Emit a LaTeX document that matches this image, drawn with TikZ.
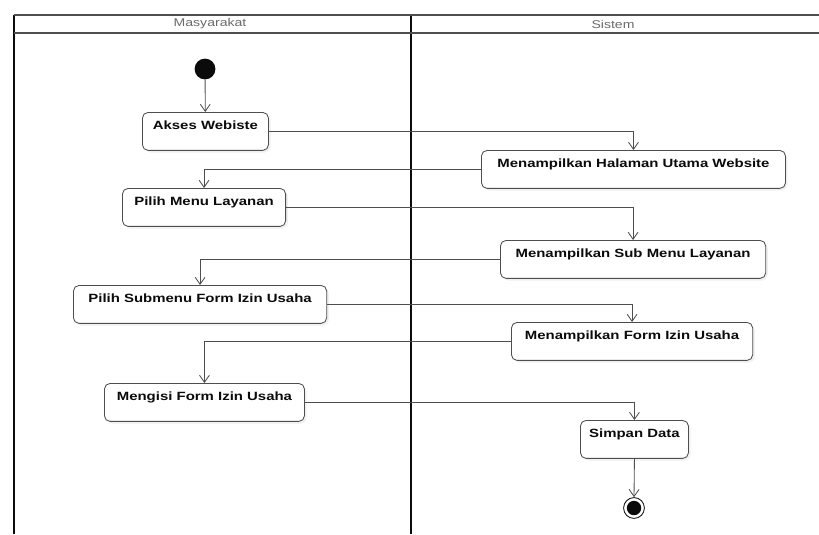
\documentclass[tikz,border=0pt]{standalone}
\usepackage{fontspec}
\setmainfont{Liberation Sans}[FakeStretch=1.25]
\usetikzlibrary{arrows.meta,shadows}
\definecolor{ink}{HTML}{0B0B0B}
\definecolor{inksoft}{HTML}{4E4E4E}
\definecolor{muted}{HTML}{6A6A6A}
\definecolor{actionfill}{HTML}{FFFFFF}

\begin{document}
\begin{tikzpicture}[
  x=0.025cm, y=-0.025cm,
  >={Straight Barb[length=5pt, width=7pt]},
  action/.style={draw=inksoft, fill=actionfill, line width=0.6pt, rounded corners=4pt,
    anchor=north west, inner xsep=4pt, inner ysep=3pt, text height=9pt, text depth=12pt,
    font=\fontsize{8.5pt}{10pt}\selectfont\bfseries, text=ink,
    drop shadow={opacity=0.12, shadow xshift=1.5pt, shadow yshift=-1.5pt}},
  lanetitle/.style={font=\fontsize{8pt}{10pt}\selectfont, text=muted},
  lane/.style={draw=ink, line width=1.3pt},
  header/.style={draw=inksoft, line width=1.2pt},
  flow/.style={->, draw=inksoft, line width=0.6pt}
]
\useasboundingbox (0,0) rectangle (819,534);

% Swimlanes
\draw[lane] (14,15) -- (14,534);
\draw[lane] (411,15) -- (411,534);
\draw[header] (14,15) -- (819,15);
\draw[header] (14,33) -- (819,33);
\node[lanetitle] (masyarakat) at (210,24) {Masyarakat};
\node[lanetitle] (sistem) at (613,24) {Sistem};

% Start state
\node[circle, fill=ink, minimum size=0.52cm, inner sep=0pt] (start) at (205,69) {};

% Actions of Masyarakat
\node[action, minimum width=3.15cm] (akses) at (142,112) {Akses Webiste};
\node[action, minimum width=4.08cm] (menu) at (122,188) {Pilih Menu Layanan};
\node[action, minimum width=6.33cm] (pilihform) at (73,285) {Pilih Submenu Form Izin Usaha};
\node[action, minimum width=5.0cm] (mengisi) at (104,383) {Mengisi Form Izin Usaha};

% Actions of Sistem
\node[action, minimum width=7.6cm] (halaman) at (481,150) {Menampilkan Halaman Utama Website};
\node[action, minimum width=6.63cm] (submenu) at (500,240) {Menampilkan Sub Menu Layanan};
\node[action, minimum width=6.03cm] (tampilform) at (511,322) {Menampilkan Form Izin Usaha};
\node[action, minimum width=2.7cm] (simpan) at (580,420) {Simpan Data};

% Final state
\node[circle, draw=ink, line width=0.6pt, minimum size=0.52cm, inner sep=0pt] (end) at (634,508) {};
\node[circle, fill=ink, minimum size=0.36cm, inner sep=0pt] (endcore) at (end.center) {};

% Control flow
\draw[flow] (start) -- (akses);
\draw[flow] (akses.east) -| (halaman.north);
\draw[flow] (halaman.west) -| (menu.north);
\draw[flow] (menu.east) -| (submenu.north);
\draw[flow] (submenu.west) -| (pilihform.north);
\draw[flow] (pilihform.east) -| (tampilform.north);
\draw[flow] (tampilform.west) -| (mengisi.north);
\draw[flow] (mengisi.east) -| (simpan.north);
\draw[flow] (simpan.south) -- (end.north);

\end{tikzpicture}
\end{document}
